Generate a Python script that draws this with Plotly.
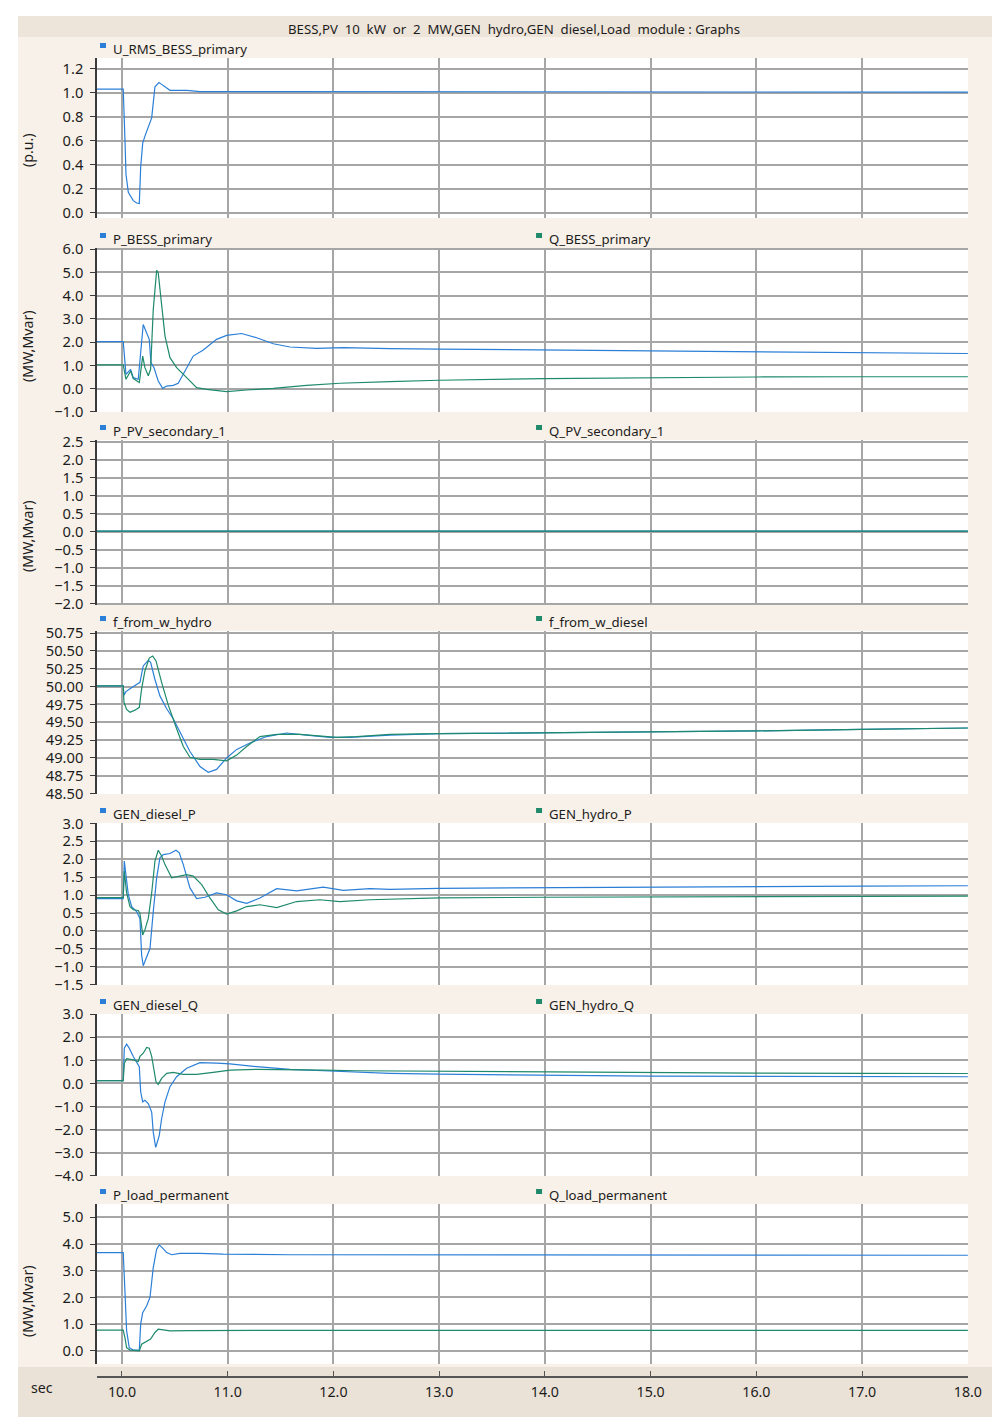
import plotly.graph_objects as go

# on-screen layout: figure appears scaled by SX with an OY px top offset
SX, OY = 0.986, 10.0
W, H = 1006, 1427

# ---------------- data (time in s, values in engineering units) ----------------
t_u_rms = [9.76, 10.012, 10.028, 10.038, 10.06, 10.082, 10.107, 10.139, 10.164, 10.177, 10.196,
           10.218, 10.265, 10.281, 10.312, 10.35, 10.375, 10.454, 10.612, 10.738, 11.5, 13.0, 15.0, 18.0]
u_rms_bess = [1.03, 1.03, 0.62, 0.32, 0.17, 0.14, 0.10, 0.08, 0.075, 0.38, 0.58,
              0.64, 0.75, 0.79, 1.05, 1.085, 1.07, 1.02, 1.02, 1.01, 1.01, 1.01, 1.005, 1.005]

t_p_bess = [9.76, 10.012, 10.038, 10.082, 10.107, 10.154, 10.201, 10.227, 10.258, 10.274, 10.303,
            10.343, 10.385, 10.423, 10.485, 10.532, 10.596, 10.674, 10.769, 10.895, 10.99, 11.132,
            11.274, 11.431, 11.589, 11.841, 12.093, 12.345, 12.534, 13.0, 14.0, 15.0, 16.0, 17.0, 18.0]
p_bess = [2.02, 2.02, 0.61, 0.83, 0.47, 0.40, 2.76, 2.48, 2.12, 1.12, 0.90,
          0.33, 0.01, 0.11, 0.14, 0.23, 0.76, 1.40, 1.66, 2.12, 2.29, 2.37,
          2.19, 1.93, 1.79, 1.73, 1.76, 1.73, 1.72, 1.70, 1.66, 1.62, 1.58, 1.55, 1.51]

t_q_bess = [9.76, 10.012, 10.038, 10.06, 10.082, 10.107, 10.164, 10.196, 10.217, 10.249, 10.271,
            10.296, 10.328, 10.343, 10.375, 10.407, 10.454, 10.517, 10.612, 10.706, 10.801, 10.99,
            11.179, 11.431, 11.747, 12.061, 12.534, 13.0, 14.0, 15.0, 16.0, 17.0, 18.0]
q_bess = [1.02, 1.02, 0.40, 0.61, 0.76, 0.43, 0.26, 1.40, 0.90, 0.55, 0.83,
          3.40, 5.09, 4.98, 3.69, 2.26, 1.33, 0.90, 0.47, 0.04, -0.03, -0.13,
          -0.06, 0.01, 0.14, 0.23, 0.30, 0.36, 0.43, 0.47, 0.50, 0.51, 0.51]

t_pv = [9.76, 12.0, 14.0, 16.0, 18.0]
p_pv = [0.02, 0.02, 0.02, 0.02, 0.02]
q_pv = [0.02, 0.02, 0.02, 0.02, 0.02]

t_f_hydro = [9.76, 10.012, 10.019, 10.038, 10.076, 10.17, 10.201, 10.249, 10.271, 10.312, 10.359,
             10.423, 10.485, 10.548, 10.643, 10.738, 10.816, 10.895, 10.99, 11.085, 11.21, 11.368,
             11.557, 11.747, 11.967, 12.156, 12.376, 12.534, 13.0, 14.0, 15.0, 16.0, 17.0, 18.0]
f_hydro = [50.01, 50.01, 49.88, 49.93, 49.97, 50.06, 50.29, 50.37, 50.34, 50.10, 49.87,
           49.69, 49.55, 49.37, 49.09, 48.88, 48.80, 48.84, 49.00, 49.12, 49.21, 49.30,
           49.35, 49.32, 49.29, 49.29, 49.31, 49.32, 49.34, 49.35, 49.37, 49.38, 49.40, 49.42]

t_f_diesel = [9.76, 10.012, 10.019, 10.044, 10.076, 10.123, 10.164, 10.186, 10.217, 10.258, 10.29,
              10.322, 10.375, 10.438, 10.517, 10.58, 10.643, 10.738, 10.863, 10.99, 11.085, 11.179,
              11.305, 11.463, 11.683, 11.872, 12.03, 12.219, 12.534, 13.0, 14.0, 15.0, 16.0, 17.0, 18.0]
f_diesel = [50.01, 50.01, 49.78, 49.68, 49.64, 49.67, 49.71, 49.97, 50.22, 50.40, 50.43,
            50.36, 50.06, 49.74, 49.41, 49.16, 49.01, 48.98, 48.98, 48.96, 49.04, 49.16,
            49.30, 49.33, 49.33, 49.31, 49.29, 49.30, 49.33, 49.34, 49.35, 49.37, 49.38, 49.40, 49.42]

t_diesel_p = [9.76, 10.012, 10.022, 10.038, 10.06, 10.092, 10.139, 10.17, 10.186, 10.201, 10.234,
              10.265, 10.296, 10.328, 10.359, 10.391, 10.454, 10.511, 10.542, 10.58, 10.643, 10.706,
              10.785, 10.895, 10.99, 11.085, 11.179, 11.305, 11.463, 11.652, 11.904, 12.093, 12.345,
              12.534, 13.0, 14.0, 15.0, 16.0, 17.0, 18.0]
gen_diesel_p = [0.90, 0.90, 1.95, 1.48, 1.01, 0.68, 0.54, 0.35, -0.67, -0.97, -0.72,
                -0.49, 0.54, 1.48, 2.04, 2.13, 2.16, 2.25, 2.18, 1.85, 1.20, 0.90,
                0.94, 1.06, 1.01, 0.84, 0.77, 0.92, 1.18, 1.12, 1.22, 1.13, 1.18,
                1.16, 1.19, 1.21, 1.22, 1.24, 1.25, 1.26]

t_hydro_p = [9.76, 10.012, 10.022, 10.044, 10.076, 10.107, 10.154, 10.17, 10.196, 10.217, 10.249,
             10.281, 10.312, 10.343, 10.375, 10.407, 10.47, 10.548, 10.612, 10.674, 10.754, 10.832,
             10.911, 10.99, 11.085, 11.179, 11.305, 11.463, 11.652, 11.872, 12.061, 12.345, 12.534,
             13.0, 14.0, 15.0, 16.0, 17.0, 18.0]
gen_hydro_p = [0.93, 0.93, 1.67, 1.06, 0.68, 0.59, 0.57, 0.49, -0.11, 0.03, 0.35,
               1.06, 1.95, 2.25, 2.09, 1.85, 1.48, 1.53, 1.57, 1.53, 1.29, 0.92,
               0.59, 0.47, 0.56, 0.68, 0.73, 0.65, 0.82, 0.87, 0.82, 0.87, 0.88,
               0.92, 0.94, 0.95, 0.96, 0.97, 0.97]

t_diesel_q = [9.76, 10.012, 10.022, 10.044, 10.069, 10.107, 10.164, 10.177, 10.196, 10.217, 10.249,
              10.281, 10.296, 10.319, 10.334, 10.353, 10.375, 10.407, 10.454, 10.517, 10.612, 10.738,
              10.895, 11.021, 11.274, 11.589, 11.904, 12.219, 12.534, 13.0, 14.0, 15.0, 16.0, 17.0, 18.0]
gen_diesel_q = [0.12, 0.12, 1.53, 1.70, 1.53, 1.17, 0.73, -0.36, -0.80, -0.73, -0.87,
                -1.24, -2.11, -2.77, -2.55, -2.25, -1.53, -0.80, -0.14, 0.29, 0.66, 0.90,
                0.88, 0.85, 0.73, 0.61, 0.55, 0.48, 0.44, 0.40, 0.35, 0.32, 0.31, 0.30, 0.29]

t_hydro_q = [9.76, 10.012, 10.022, 10.044, 10.107, 10.154, 10.17, 10.201, 10.234, 10.258, 10.281,
             10.303, 10.322, 10.343, 10.375, 10.423, 10.485, 10.58, 10.706, 10.863, 11.021, 11.274,
             11.589, 11.904, 12.219, 12.534, 13.0, 14.0, 15.0, 16.0, 17.0, 18.0]
gen_hydro_q = [0.12, 0.12, 0.87, 1.07, 1.02, 0.95, 1.17, 1.31, 1.56, 1.53, 1.17,
               0.51, 0.07, -0.04, 0.22, 0.44, 0.48, 0.39, 0.39, 0.48, 0.58, 0.61,
               0.61, 0.58, 0.55, 0.54, 0.52, 0.49, 0.47, 0.45, 0.44, 0.43]

t_p_load = [9.76, 10.012, 10.028, 10.044, 10.069, 10.107, 10.164, 10.177, 10.196, 10.234, 10.265,
            10.296, 10.328, 10.353, 10.385, 10.423, 10.47, 10.548, 10.738, 10.958, 11.589, 13.0,
            15.0, 18.0]
p_load = [3.68, 3.68, 2.25, 0.75, 0.12, 0.03, 0.03, 1.00, 1.43, 1.69, 2.00,
          3.12, 3.81, 3.97, 3.85, 3.68, 3.60, 3.65, 3.65, 3.62, 3.60, 3.60,
          3.59, 3.58]

t_q_load = [9.76, 10.012, 10.028, 10.044, 10.076, 10.164, 10.186, 10.234, 10.271, 10.312, 10.343,
            10.391, 10.454, 10.643, 11.589, 18.0]
q_load = [0.78, 0.78, 0.50, 0.12, 0.03, 0.00, 0.25, 0.35, 0.44, 0.69, 0.81,
          0.79, 0.75, 0.76, 0.77, 0.77]

x_ticks = [10, 11, 12, 13, 14, 15, 16, 17, 18]
title_text = "BESS,PV\u00a0 10\u00a0 kW\u00a0 or\u00a0 2\u00a0 MW,GEN\u00a0 hydro,GEN\u00a0 diesel,Load\u00a0 module : Graphs"

# ---------------- styling ----------------
BLUE = "#2b7fd7"
GREEN = "#1e8a6b"
GRID = "#a6a6a6"
AXIS = "#3a3a3a"
TXT = "#1c1c1c"
FONT = "Noto Sans"
X_RANGE = [9.764, 18.002]
PLOT_L, PLOT_R = 97, 968


def fx(x):
    """screen x pixel -> paper fraction"""
    return (x / SX) / W


def fy(y):
    """screen y pixel -> paper fraction"""
    return 1 - ((y - OY) / SX) / H


def fs(size):
    return round(size / SX, 1)


panels = [
    dict(top=57, bottom=217, rng=[-0.045, 1.29], dtick=0.2, tick0=0, fmt=".1f", unit="(p.u.)", unit_y=149,
         series=[("U_RMS_BESS_primary", t_u_rms, u_rms_bess, BLUE)]),
    dict(top=247, bottom=411, rng=[-1.006, 6.05], dtick=1, tick0=0, fmt=".1f", unit="(MW,Mvar)", unit_y=345,
         series=[("P_BESS_primary", t_p_bess, p_bess, BLUE), ("Q_BESS_primary", t_q_bess, q_bess, GREEN)]),
    dict(top=439, bottom=604, rng=[-2.03, 2.55], dtick=0.5, tick0=0, fmt=".1f", unit="(MW,Mvar)", unit_y=535,
         series=[("P_PV_secondary_1", t_pv, p_pv, BLUE), ("Q_PV_secondary_1", t_pv, q_pv, GREEN)]),
    dict(top=630, bottom=793, rng=[48.495, 50.78], dtick=0.25, tick0=48.5, fmt=".2f", unit=None, unit_y=None,
         series=[("f_from_w_hydro", t_f_hydro, f_hydro, BLUE), ("f_from_w_diesel", t_f_diesel, f_diesel, GREEN)]),
    dict(top=822, bottom=984, rng=[-1.506, 3.01], dtick=0.5, tick0=0, fmt=".1f", unit=None, unit_y=None,
         series=[("GEN_diesel_P", t_diesel_p, gen_diesel_p, BLUE), ("GEN_hydro_P", t_hydro_p, gen_hydro_p, GREEN)]),
    dict(top=1013, bottom=1175, rng=[-4.01, 3.01], dtick=1, tick0=0, fmt=".1f", unit=None, unit_y=None,
         series=[("GEN_diesel_Q", t_diesel_q, gen_diesel_q, BLUE), ("GEN_hydro_Q", t_hydro_q, gen_hydro_q, GREEN)]),
    dict(top=1203, bottom=1363, rng=[-0.49, 5.5], dtick=1, tick0=0, fmt=".1f", unit="(MW,Mvar)", unit_y=1300,
         series=[("P_load_permanent", t_p_load, p_load, BLUE), ("Q_load_permanent", t_q_load, q_load, GREEN)]),
]

fig = go.Figure()
layout = dict(
    width=W, height=H,
    margin=dict(l=0, r=0, t=0, b=0),
    paper_bgcolor="white",
    plot_bgcolor="white",
    showlegend=False,
    font=dict(family=FONT, size=fs(13), color=TXT),
)

shapes = [
    # window frame
    dict(type="rect", xref="paper", yref="paper", x0=fx(18), x1=1, y0=fy(36), y1=fy(15),
         fillcolor="#eee5da", line_width=0, layer="below"),
    dict(type="rect", xref="paper", yref="paper", x0=fx(18), x1=1, y0=fy(1366), y1=fy(36),
         fillcolor="#f8f1e9", line_width=0, layer="below"),
    dict(type="rect", xref="paper", yref="paper", x0=fx(18), x1=1, y0=0, y1=fy(1366),
         fillcolor="#ebe2d7", line_width=0, layer="below"),
]
annotations = [
    dict(text=title_text, xref="paper", yref="paper", x=fx(514), y=fy(28), xanchor="center",
         yanchor="middle", showarrow=False, font=dict(family=FONT, size=fs(13), color=TXT)),
    dict(text="sec", xref="paper", yref="paper", x=fx(42), y=fy(1387), xanchor="center",
         yanchor="middle", showarrow=False, font=dict(family=FONT, size=fs(14), color=TXT)),
]

for i, p in enumerate(panels, start=1):
    xa = "xaxis" if i == 1 else f"xaxis{i}"
    ya = "yaxis" if i == 1 else f"yaxis{i}"
    xr = "x" if i == 1 else f"x{i}"
    yr = "y" if i == 1 else f"y{i}"
    layout[xa] = dict(domain=[fx(PLOT_L), fx(PLOT_R)], range=X_RANGE, anchor=yr,
                      tickmode="array", tickvals=x_ticks, showticklabels=False, ticks="",
                      showgrid=True, gridcolor=GRID, gridwidth=1.5, zeroline=False,
                      showline=False, fixedrange=True)
    layout[ya] = dict(domain=[fy(p["bottom"]), fy(p["top"])], range=p["rng"], anchor=xr,
                      dtick=p["dtick"], tick0=p["tick0"], tickformat=p["fmt"],
                      showgrid=True, gridcolor=GRID, gridwidth=1.5, zeroline=False,
                      showline=True, linecolor=AXIS, linewidth=1.5,
                      ticks="outside", ticklen=5, tickwidth=1.2, tickcolor=AXIS,
                      ticklabelstandoff=4,
                      tickfont=dict(family=FONT, size=fs(14.5), color=TXT), fixedrange=True)
    # white plotting surface
    shapes.append(dict(type="rect", xref="paper", yref="paper", x0=fx(PLOT_L), x1=fx(PLOT_R),
                       y0=fy(p["bottom"]), y1=fy(p["top"]), fillcolor="white", line_width=0,
                       layer="below"))
    for k, (name, t, v, col) in enumerate(p["series"]):
        fig.add_trace(go.Scatter(x=t, y=v, mode="lines", name=name, xaxis=xr, yaxis=yr,
                                 line=dict(color=col, width=1.2)))
        lx = 100 if k == 0 else 536
        shapes.append(dict(type="rect", xref="paper", yref="paper", x0=fx(lx), x1=fx(lx + 6),
                           y0=fy(p["top"] - 10), y1=fy(p["top"] - 15), fillcolor=col,
                           line_width=0, layer="above"))
        annotations.append(dict(text=name, xref="paper", yref="paper", x=fx(lx + 11),
                                y=fy(p["top"] - 9), xanchor="left", yanchor="middle",
                                showarrow=False, font=dict(family=FONT, size=fs(13), color=TXT)))
    if p["unit"]:
        annotations.append(dict(text=p["unit"], xref="paper", yref="paper", x=fx(28),
                                y=fy(p["unit_y"]), xanchor="center", yanchor="middle",
                                textangle=-90, showarrow=False,
                                font=dict(family=FONT, size=fs(14), color=TXT)))

# shared time axis drawn beneath the last panel
layout["xaxis8"] = dict(domain=[fx(PLOT_L), fx(PLOT_R)], range=X_RANGE, anchor="y8",
                        tickmode="array", tickvals=x_ticks, tickformat=".1f",
                        showline=True, linecolor="#555555", linewidth=1.5,
                        ticks="inside", ticklen=5, tickcolor="#555555", tickwidth=1.2,
                        showgrid=False, zeroline=False, ticklabelstandoff=2,
                        tickfont=dict(family=FONT, size=fs(14), color=TXT), fixedrange=True)
layout["yaxis8"] = dict(domain=[fy(1375), fy(1372)], range=[0, 1], anchor="x8", visible=False,
                        fixedrange=True)
fig.add_trace(go.Scatter(x=[], y=[], xaxis="x8", yaxis="y8", showlegend=False))

layout["shapes"] = shapes
layout["annotations"] = annotations
fig.update_layout(**layout)

fig.write_html("out.html")
